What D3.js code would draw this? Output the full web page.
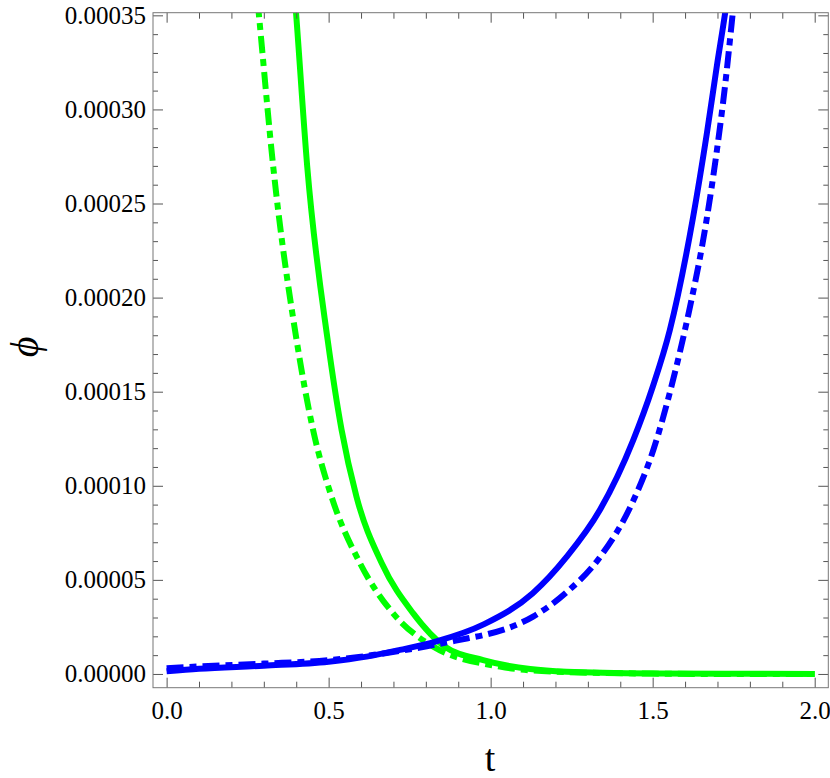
<!DOCTYPE html>
<html>
<head>
<meta charset="utf-8">
<script src="https://cdn.jsdelivr.net/npm/d3@7"></script>
<style>
  body { margin: 0; background: #fff; }
  svg { display: block; }
  svg text { font-family: 'Liberation Serif', 'Tinos', 'Times New Roman', 'DejaVu Serif', serif; }
</style>
</head>
<body>
<div id="chart"></div>
<script>
// values: [t, phi]
const blueSolid = [
  [0.00, 1.5e-6], [0.10, 2.8e-6], [0.30, 4.4e-6], [0.50, 6.5e-6], [0.617, 9.2e-6],
  [0.72, 1.28e-5], [0.83, 1.72e-5], [0.98, 2.65e-5], [1.13, 4.29e-5], [1.235, 6.23e-5],
  [1.337, 8.71e-5], [1.44, 1.243e-4], [1.50, 1.525e-4], [1.553, 1.828e-4], [1.625, 2.43e-4],
  [1.667, 2.87e-4], [1.698, 3.23e-4], [1.726, 3.54e-4], [1.75, 3.85e-4]
];
const blueDashDot = [
  [0.00, 3.0e-6], [0.10, 4.0e-6], [0.30, 5.5e-6], [0.50, 7.3e-6], [0.77, 1.37e-5],
  [0.93, 1.9e-5], [0.98, 2.07e-5], [1.131, 3.05e-5], [1.235, 4.35e-5], [1.337, 6.2e-5],
  [1.44, 9.2e-5], [1.502, 1.19e-4], [1.564, 1.57e-4], [1.605, 1.87e-4], [1.667, 2.42e-4],
  [1.698, 2.78e-4], [1.723, 3.12e-4], [1.744, 3.46e-4], [1.77, 3.9e-4]
];
const greenSolid = [
  [0.38, 3.95e-4], [0.40, 3.50e-4], [0.434, 2.696e-4], [0.497, 1.775e-4], [0.540, 1.297e-4],
  [0.586, 9.42e-5], [0.664, 5.88e-5], [0.761, 3.22e-5], [0.859, 1.45e-5], [0.977, 7.4e-6],
  [1.122, 2.6e-6], [1.234, 1.2e-6], [1.5, 3e-7], [1.75, 1e-7], [2.0, 0]
];
const greenDashDot = [
  [0.27, 3.77e-4], [0.284, 3.518e-4], [0.329, 2.696e-4], [0.401, 1.775e-4], [0.452, 1.297e-4],
  [0.509, 9.42e-5], [0.597, 5.88e-5], [0.699, 3.22e-5], [0.823, 1.45e-5], [1.029, 3.9e-6],
  [1.2, 1.2e-6], [1.5, 2e-7], [1.75, 0], [2.0, 0]
];

const xTicks = [0, 0.5, 1.0, 1.5, 2.0];
const yTicks = [0, 0.00005, 0.0001, 0.00015, 0.0002, 0.00025, 0.0003, 0.00035];

const W = 830, H = 778;
const frameL = 153, frameR = 828.3, frameT = 12.7, frameB = 687.7;

const svg = d3.select('#chart').append('svg')
    .attr('width', W)
    .attr('height', H);

const x = d3.scaleLinear().domain([-0.042, 2.042]).range([frameL, frameR]);
const y = d3.scaleLinear().domain([-0.0000073, 0.0003514]).range([frameB, frameT]);

svg.append('clipPath').attr('id', 'plot-clip')
  .append('rect')
    .attr('x', frameL).attr('y', frameT)
    .attr('width', frameR - frameL).attr('height', frameB - frameT);

// curves
const line = d3.line()
    .x(d => x(d[0]))
    .y(d => y(d[1]))
    .curve(d3.curveMonotoneX);

const curves = [
  { data: greenDashDot, color: '#00ff00', dash: '17,6,7,6' },
  { data: greenSolid, color: '#00ff00', dash: null },
  { data: blueDashDot, color: '#0000ff', dash: '17,6,7,6' },
  { data: blueSolid, color: '#0000ff', dash: null }
];

const plot = svg.append('g').attr('clip-path', 'url(#plot-clip)');
curves.forEach(c => {
  plot.append('path')
      .datum(c.data)
      .attr('d', line)
      .attr('fill', 'none')
      .attr('stroke', c.color)
      .attr('stroke-width', 6)
      .attr('stroke-dasharray', c.dash);
});

// frame axes, ticks pointing inwards
const xMinor = d3.range(0, 2.05, 0.1).filter(v => Math.abs(v * 2 - Math.round(v * 2)) > 1e-6);
const yMinor = d3.range(0, 0.000351, 0.00001).filter(v => Math.abs(v / 0.00005 - Math.round(v / 0.00005)) > 1e-6);

function style(g) {
  g.select('.domain').remove();
  g.selectAll('line').attr('stroke', '#555');
  g.attr('font-family', null).attr('font-size', 25);
  g.selectAll('text').attr('fill', '#000');
}

svg.append('g').attr('transform', `translate(0,${frameB})`)
    .call(d3.axisBottom(x).tickValues(xTicks).tickFormat(d3.format('.1f')).tickSize(-10).tickPadding(14))
    .call(style);
svg.append('g').attr('transform', `translate(0,${frameB})`)
    .call(d3.axisBottom(x).tickValues(xMinor).tickFormat('').tickSize(-6))
    .call(style);
svg.append('g').attr('transform', `translate(0,${frameT})`)
    .call(d3.axisTop(x).tickValues(xTicks).tickFormat('').tickSize(-10))
    .call(style);
svg.append('g').attr('transform', `translate(0,${frameT})`)
    .call(d3.axisTop(x).tickValues(xMinor).tickFormat('').tickSize(-6))
    .call(style);

svg.append('g').attr('transform', `translate(${frameL},0)`)
    .call(d3.axisLeft(y).tickValues(yTicks).tickFormat(d3.format('.5f')).tickSize(-10).tickPadding(7))
    .call(style);
svg.append('g').attr('transform', `translate(${frameL},0)`)
    .call(d3.axisLeft(y).tickValues(yMinor).tickFormat('').tickSize(-5))
    .call(style);
svg.append('g').attr('transform', `translate(${frameR},0)`)
    .call(d3.axisRight(y).tickValues(yTicks).tickFormat('').tickSize(-10))
    .call(style);
svg.append('g').attr('transform', `translate(${frameR},0)`)
    .call(d3.axisRight(y).tickValues(yMinor).tickFormat('').tickSize(-5))
    .call(style);

svg.append('rect')
    .attr('x', frameL).attr('y', frameT)
    .attr('width', frameR - frameL).attr('height', frameB - frameT)
    .attr('fill', 'none')
    .attr('stroke', '#777')
    .attr('stroke-width', 1);

// axis titles
svg.append('text')
    .attr('x', 490)
    .attr('y', 771)
    .attr('text-anchor', 'middle')
    .attr('font-size', 38)
    .text('t');

svg.append('text')
    .attr('transform', 'translate(24,347) rotate(-90)')
    .attr('text-anchor', 'middle')
    .attr('dominant-baseline', 'central')
    .attr('font-style', 'italic')
    .attr('font-size', 40)
    .text('\u03D5');
</script>
</body>
</html>
